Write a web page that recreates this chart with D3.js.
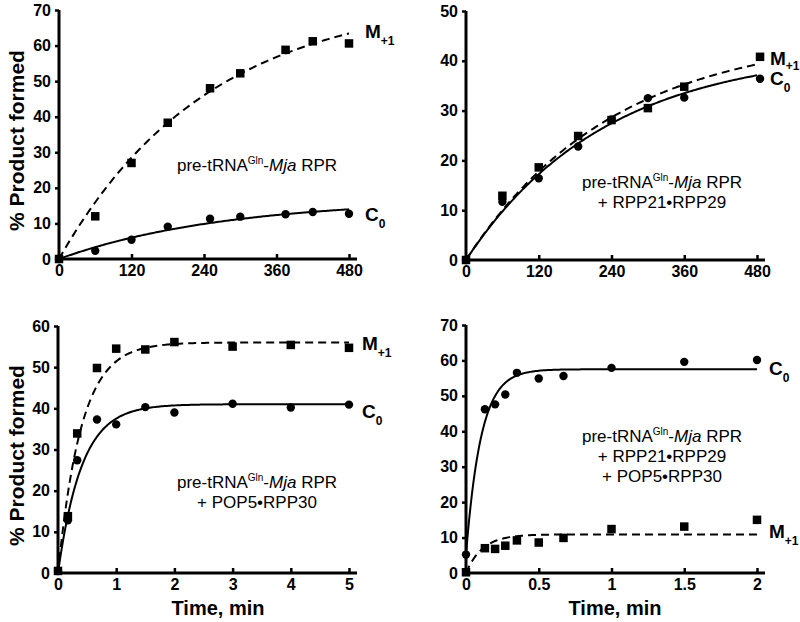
<!DOCTYPE html>
<html><head><meta charset="utf-8">
<script src="https://cdn.jsdelivr.net/npm/d3@7"></script>
<style>body{margin:0;background:#fff} svg{display:block}</style>
</head><body><svg id="c" width="800" height="622"></svg>
<script>
// ---------- DATA ----------
// Panel A: pre-tRNAGln-Mja RPR
const p1Time = [0, 60, 120, 180, 250, 300, 375, 420, 480];
const p1M    = [0, 12, 27, 38.3, 48, 52.2, 58.8, 61.2, 60.6];
const p1C    = [0, 2.3, 5.4, 9.1, 11.3, 11.9, 12.6, 13.2, 12.7];
const p1FitM = [74, 0.00405, 0];     // [plateau, rate, start]
const p1FitC = [16.9, 0.00365, 0];
const p1XTicks = [0, 120, 240, 360, 480];
const p1YTicks = [0, 10, 20, 30, 40, 50, 60, 70];

// Panel B: + RPP21•RPP29
const p2Time = [0, 60, 120, 185, 240, 300, 360, 485];
const p2M    = [0, 12.9, 18.6, 24.9, 28.1, 30.5, 34.8, 40.8];
const p2C    = [0, 11.7, 16.4, 22.8, 28.2, 32.5, 32.6, 36.4];
const p2FitM = [45.6, 0.00412, 0];
const p2FitC = [42.3, 0.00436, 0];
const p2XTicks = [0, 120, 240, 360, 480];
const p2YTicks = [0, 10, 20, 30, 40, 50];

// Panel C: + POP5•RPP30
const p3Time = [0, 0.17, 0.33, 0.67, 1, 1.5, 2, 3, 4, 5];
const p3M    = [0.5, 13.8, 33.9, 49.8, 54.5, 54.3, 56.1, 55.0, 55.4, 54.7];
const p3C    = [0.5, 12.8, 27.4, 37.3, 36.1, 40.3, 39.0, 41.1, 40.2, 40.9];
const p3FitM = [56, 2.5, 0];
const p3FitC = [41, 2.46, 0];
const p3XTicks = [0, 1, 2, 3, 4, 5];
const p3YTicks = [0, 10, 20, 30, 40, 50, 60];

// Panel D: + RPP21•RPP29 + POP5•RPP30
const p4Time = [0, 0.13, 0.2, 0.27, 0.35, 0.5, 0.67, 1, 1.5, 2];
const p4C    = [5.2, 46.2, 47.6, 50.4, 56.5, 54.9, 55.6, 57.9, 59.6, 60.1];
const p4M    = [0.2, 7.0, 6.8, 7.7, 9.2, 8.6, 9.9, 12.4, 13.1, 15.0];
const p4FitM = [10.9, 8.8, 0];
const p4FitC = [57.5, 9.7, 5.2];
const p4XTicks = [0, 0.5, 1, 1.5, 2];
const p4YTicks = [0, 10, 20, 30, 40, 50, 60, 70];

const annot1 = [["pre-tRNA", "Gln", "-", "Mja", " RPR"]];
const annot2 = [["pre-tRNA", "Gln", "-", "Mja", " RPR"], ["+ RPP21•RPP29"]];
const annot3 = [["pre-tRNA", "Gln", "-", "Mja", " RPR"], ["+ POP5•RPP30"]];
const annot4 = [["pre-tRNA", "Gln", "-", "Mja", " RPR"], ["+ RPP21•RPP29"], ["+ POP5•RPP30"]];

const yTitle = "% Product formed";
const xTitle = "Time, min";

// ---------- DRAW ----------
const svg = d3.select('#c');
const FONT = "Arial, 'Liberation Sans', Helvetica, sans-serif";

function panel(cfg) {
  const x = d3.scaleLinear().domain([0, cfg.xTicks[cfg.xTicks.length - 1]]).range([cfg.x0, cfg.x1]);
  const y = d3.scaleLinear().domain([0, cfg.yTicks[cfg.yTicks.length - 1]]).range([cfg.y0, cfg.y1]);
  const g = svg.append('g');

  // y axis
  const ya = d3.axisLeft(y).tickValues(cfg.yTicks).tickSize(4).tickPadding(4).tickFormat(d3.format('d'));
  const yg = g.append('g').attr('transform', `translate(${cfg.x0},0)`).call(ya);
  yg.select('.domain').remove();
  yg.selectAll('.tick line').attr('stroke', '#000').attr('stroke-width', 2.5);
  yg.selectAll('.tick text').attr('font-family', FONT).attr('font-size', 16).attr('font-weight', 'bold').attr('fill', '#000');

  // x axis (inward ticks)
  const xa = d3.axisBottom(x).tickValues(cfg.xTicks).tickSize(-5).tickPadding(6).tickFormat(d => String(d));
  const xg = g.append('g').attr('transform', `translate(0,${cfg.y0})`).call(xa);
  xg.select('.domain').remove();
  xg.selectAll('.tick line').attr('stroke', '#000').attr('stroke-width', 2.5);
  xg.selectAll('.tick text').attr('font-family', FONT).attr('font-size', 16).attr('font-weight', 'bold').attr('fill', '#000');

  // axis lines
  g.append('line').attr('x1', cfg.x0).attr('x2', cfg.x0).attr('y1', cfg.y0 + 1.5).attr('y2', cfg.y1)
    .attr('stroke', '#000').attr('stroke-width', 3);
  g.append('line').attr('x1', cfg.x0 - 1.5).attr('x2', cfg.x1 + 8).attr('y1', cfg.y0).attr('y2', cfg.y0)
    .attr('stroke', '#000').attr('stroke-width', 3);

  // fit curves
  const xmax = cfg.xTicks[cfg.xTicks.length - 1];
  const ts = d3.range(0, 201).map(i => xmax * i / 200);
  const fit = p => t => p[2] + (p[0] - p[2]) * (1 - Math.exp(-p[1] * t));
  const line = d3.line().x(d => x(d[0])).y(d => y(d[1]));
  g.append('path').attr('d', line(ts.map(t => [t, fit(cfg.fitM)(t)])))
    .attr('fill', 'none').attr('stroke', '#000').attr('stroke-width', 2).attr('stroke-dasharray', '8,5');
  g.append('path').attr('d', line(ts.map(t => [t, fit(cfg.fitC)(t)])))
    .attr('fill', 'none').attr('stroke', '#000').attr('stroke-width', 2);

  // markers
  const s = 8.5;
  g.selectAll('rect.m').data(cfg.time.map((t, i) => [t, cfg.M[i]])).join('rect')
    .attr('x', d => x(d[0]) - s / 2).attr('y', d => y(d[1]) - s / 2).attr('width', s).attr('height', s).attr('fill', '#000');
  g.selectAll('circle.c').data(cfg.time.map((t, i) => [t, cfg.C[i]])).join('circle')
    .attr('cx', d => x(d[0])).attr('cy', d => y(d[1])).attr('r', 4.2).attr('fill', '#000');

  // series labels
  function lab(txt, sub, px, py, dy) {
    const t = g.append('text').attr('x', px).attr('y', py).attr('font-family', FONT).attr('font-weight', 'bold').attr('font-size', 19).attr('fill', '#000');
    t.append('tspan').text(txt);
    t.append('tspan').attr('font-size', 12).attr('dy', dy).text(sub);
  }
  lab('M', '+1', cfg.mLab[0], cfg.mLab[1], cfg.mSubDy || 7);
  lab('C', '0', cfg.cLab[0], cfg.cLab[1], 7);

  // annotation
  cfg.annot.forEach((parts, i) => {
    const t = g.append('text').attr('x', cfg.ann[0]).attr('y', cfg.ann[1] + i * 20)
      .attr('text-anchor', 'middle').attr('font-family', FONT).attr('font-size', 17).attr('fill', '#000');
    if (parts.length === 1) { t.text(parts[0]); return; }
    t.append('tspan').text(parts[0]);
    t.append('tspan').attr('font-size', 10).attr('dy', -7).text(parts[1]);
    t.append('tspan').attr('dy', 7).text(parts[2]);
    t.append('tspan').attr('font-style', 'italic').text(parts[3]);
    t.append('tspan').text(parts[4]);
  });

  // axis titles
  if (cfg.yTitle) {
    const cy = (cfg.y0 + cfg.y1) / 2 + 6;
    svg.append('text').attr('transform', `translate(24,${cy}) rotate(-90)`).attr('text-anchor', 'middle')
      .attr('font-family', FONT).attr('font-weight', 'bold').attr('font-size', 21).attr('fill', '#000').text(yTitle);
  }
  if (cfg.xTitle) {
    svg.append('text').attr('x', cfg.xTitle[0]).attr('y', cfg.xTitle[1]).attr('text-anchor', 'middle')
      .attr('font-family', FONT).attr('font-weight', 'bold').attr('font-size', 20).attr('fill', '#000').text(xTitle);
  }
}

panel({ time: p1Time, M: p1M, C: p1C, fitM: p1FitM, fitC: p1FitC, xTicks: p1XTicks, yTicks: p1YTicks,
  x0: 59, x1: 349, y0: 259, y1: 10, mLab: [365, 38], cLab: [365, 221], ann: [257, 171], annot: annot1, yTitle: true });
panel({ time: p2Time, M: p2M, C: p2C, fitM: p2FitM, fitC: p2FitC, xTicks: p2XTicks, yTicks: p2YTicks,
  x0: 466, x1: 757, y0: 260, y1: 11, mLab: [770, 65], mSubDy: 5, cLab: [770, 85], ann: [662, 188], annot: annot2 });
panel({ time: p3Time, M: p3M, C: p3C, fitM: p3FitM, fitC: p3FitC, xTicks: p3XTicks, yTicks: p3YTicks,
  x0: 58, x1: 349, y0: 573, y1: 326, mLab: [362, 350], cLab: [362, 418], ann: [257, 488], annot: annot3, yTitle: true, xTitle: [218, 615] });
panel({ time: p4Time, M: p4M, C: p4C, fitM: p4FitM, fitC: p4FitC, xTicks: p4XTicks, yTicks: p4YTicks,
  x0: 466, x1: 757, y0: 573, y1: 325, mLab: [769, 538], cLab: [769, 375], ann: [662, 442], annot: annot4, xTitle: [615, 615] });
</script></body></html>
